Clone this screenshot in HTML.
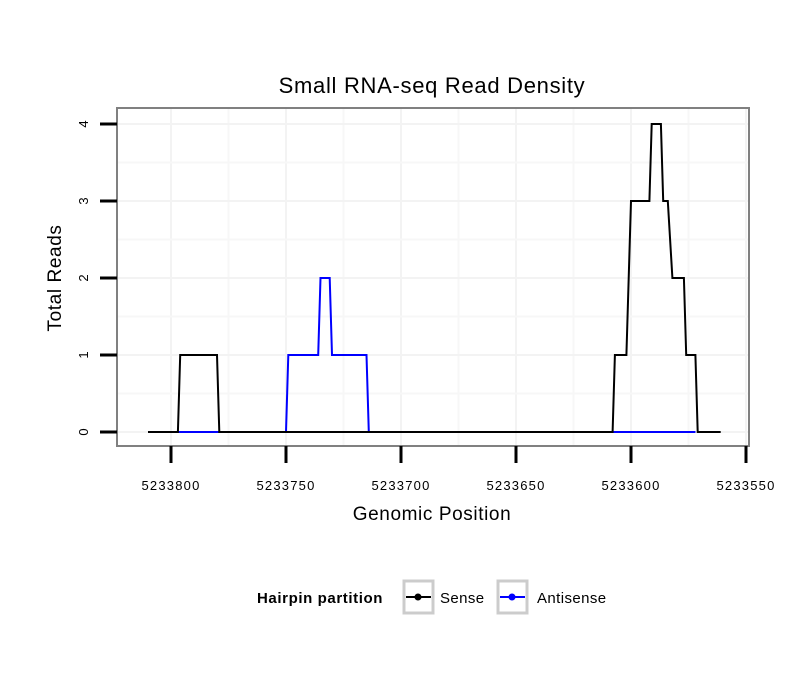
<!DOCTYPE html>
<html><head><meta charset="utf-8"><style>
body{margin:0;background:#fff}
svg{font-family:"Liberation Sans",sans-serif}
</style></head><body>
<svg id="chart" width="810" height="690" xmlns="http://www.w3.org/2000/svg">
<rect width="810" height="690" fill="#fff"/>
<text x="432" y="93" font-size="22" letter-spacing="0.7" text-anchor="middle">Small RNA-seq Read Density</text>
<g id="grid"></g>
<g id="series"></g>
<rect x="117" y="108" width="632" height="338" fill="none" stroke="#808080" stroke-width="2"/>
<g id="axes"></g>
<text x="432" y="520" font-size="19" letter-spacing="0.6" text-anchor="middle">Genomic Position</text>
<text transform="translate(61,278) rotate(-90)" font-size="19" letter-spacing="0.6" text-anchor="middle">Total Reads</text>
<g>
<text x="257" y="603" font-size="15" letter-spacing="0.6" font-weight="bold">Hairpin partition</text>
<g>
<rect x="404" y="581" width="29" height="32" fill="#fff" stroke="#ccc" stroke-width="3"/>
<line x1="406" y1="597" x2="431" y2="597" stroke="#000" stroke-width="2"/><circle cx="418" cy="597" r="3.5" fill="#000"/>
<text x="440" y="603" font-size="15" letter-spacing="0.4">Sense</text></g>
<g>
<rect x="498" y="581" width="29" height="32" fill="#fff" stroke="#ccc" stroke-width="3"/>
<line x1="500" y1="597" x2="525" y2="597" stroke="#00f" stroke-width="2"/><circle cx="512" cy="597" r="3.5" fill="#00f"/>
<text x="537" y="603" font-size="15" letter-spacing="0.4">Antisense</text></g>
</g>
</svg>
<script>
const xTicks=[5233800,5233750,5233700,5233650,5233600,5233550];
const yTicks=[0,1,2,3,4];
const sensePos=[5233810,5233797,5233796,5233780,5233779,5233608,5233607,5233602,5233600,5233592,5233591,5233587,5233586,5233584,5233582,5233577,5233576,5233572,5233571,5233561];
const senseVal=[0,0,1,1,0,0,1,1,3,3,4,4,3,3,2,2,1,1,0,0];
const antiPos=[5233797,5233750,5233749,5233736,5233735,5233731,5233730,5233715,5233714,5233572];
const antiVal=[0,0,1,1,2,2,1,1,0,0];
const NS="http://www.w3.org/2000/svg";
const xs=p=>171+(5233800-p)*2.3;
const ys=v=>432-v*77;
function mk(t,a,parent){const e=document.createElementNS(NS,t);for(const k in a)e.setAttribute(k,a[k]);document.getElementById(parent).appendChild(e);return e;}
for(let i=0;i<xTicks.length;i++){
  const g=mk('line',{x1:xs(xTicks[i]),x2:xs(xTicks[i]),y1:108,y2:446,stroke:'#f3f3f3','stroke-width':2},'grid');
  
  
  const m=xs(xTicks[i]-25);
  if(m<749){const g2=mk('line',{x1:m,x2:m,y1:108,y2:446,stroke:'#f7f7f7','stroke-width':2},'grid');
  
  }
}
for(let i=0;i<yTicks.length;i++){
  const g=mk('line',{x1:117,x2:749,y1:ys(yTicks[i]),y2:ys(yTicks[i]),stroke:'#f3f3f3','stroke-width':2},'grid');
  
  
  if(i<yTicks.length-1){
  const g2=mk('line',{x1:117,x2:749,y1:ys(yTicks[i]+0.5),y2:ys(yTicks[i]+0.5),stroke:'#f7f7f7','stroke-width':2},'grid');
  
  }
}
xTicks.forEach(t=>{
  const l=mk('line',{x1:xs(t),x2:xs(t),y1:446,y2:463,stroke:'#000','stroke-width':3},'axes');
  
  
  const tx=mk('text',{x:xs(t),y:490,'font-size':13,'letter-spacing':1.2,'text-anchor':'middle'},'axes');tx.textContent=t;
  
  
});
yTicks.forEach(t=>{
  const l=mk('line',{x1:100,x2:117,y1:ys(t),y2:ys(t),stroke:'#000','stroke-width':3},'axes');
  
  
  const tx=mk('text',{transform:`translate(88,${ys(t)}) rotate(-90)`,'font-size':13,'text-anchor':'middle'},'axes');tx.textContent=t;
  
  
});
function pts(P,V){return P.map((p,i)=>xs(p)+','+ys(V[i])).join(' ');}
const a=mk('polyline',{points:pts(antiPos,antiVal),fill:'none',stroke:'#00f','stroke-width':2},'series');


const s=mk('polyline',{points:pts(sensePos,senseVal),fill:'none',stroke:'#000','stroke-width':2},'series');


const a2=mk('polyline',{points:pts([5233796,5233780],[0,0]),fill:'none',stroke:'#00f','stroke-width':2},'series');


const a3=mk('polyline',{points:pts([5233607,5233572],[0,0]),fill:'none',stroke:'#00f','stroke-width':2},'series');


</script>
</body></html>
